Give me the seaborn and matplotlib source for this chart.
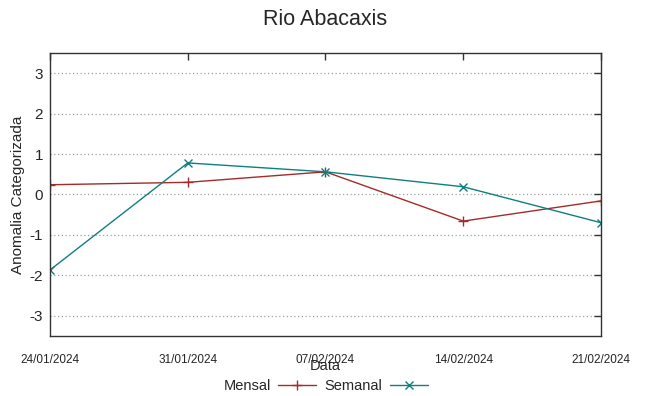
import pandas as pd
import matplotlib
matplotlib.use('Agg')
import matplotlib.pyplot as plt
import matplotlib.dates as mdates
from matplotlib.lines import Line2D
import seaborn as sns

datas = ['24/01/2024', '31/01/2024', '07/02/2024', '14/02/2024', '21/02/2024']
mensal = [0.24, 0.30, 0.56, -0.66, -0.16]
semanal = [-1.87, 0.78, 0.56, 0.19, -0.70]

sns.set_style('white')
plt.rcParams['font.family'] = ['Liberation Sans', 'DejaVu Sans']
plt.rcParams['axes.unicode_minus'] = False

dt = pd.to_datetime(datas, format='%d/%m/%Y')
df_m = pd.DataFrame({'Data': dt, 'valor': mensal})
df_s = pd.DataFrame({'Data': dt, 'valor': semanal})

fig, ax = plt.subplots(figsize=(6.49, 3.96), dpi=100)
fig.subplots_adjust(left=0.077, right=0.926, top=0.866, bottom=0.152)

cores = {'Mensal': '#a52a2a', 'Semanal': '#0f7f7f'}
sns.lineplot(data=df_m, x='Data', y='valor', color=cores['Mensal'], marker='+',
             markersize=7, markeredgewidth=1, markeredgecolor=cores['Mensal'],
             linewidth=1, ax=ax)
sns.lineplot(data=df_s, x='Data', y='valor', color=cores['Semanal'], marker='x',
             markersize=6, markeredgewidth=1, markeredgecolor=cores['Semanal'],
             linewidth=1, ax=ax)

ax.set_xlim(dt[0], dt[-1])
ax.set_ylim(-3.5, 3.5)
ax.set_yticks([-3, -2, -1, 0, 1, 2, 3])
ax.set_xticks(dt)
ax.xaxis.set_major_formatter(mdates.DateFormatter('%d/%m/%Y'))

ax.grid(axis='y', linestyle=(0, (1, 2)), color='#a0a0a0', linewidth=0.9)
for s in ax.spines.values():
    s.set_color('#333333')
    s.set_linewidth(1)

ax.tick_params(axis='both', direction='in', top=True, right=True, length=5,
               width=1, color='#333333')
ax.tick_params(axis='y', labelsize=11, pad=5)
ax.tick_params(axis='x', labelsize=8.5, pad=13)

ax.set_title('Rio Abacaxis', fontsize=15.5, pad=20)
ax.set_xlabel('Data', fontsize=10.5, labelpad=-5)
ax.set_ylabel('Anomalia Categorizada', fontsize=11, labelpad=3)

h = [Line2D([], [], color=cores['Mensal'], marker='+', lw=1, markersize=7),
     Line2D([], [], color=cores['Semanal'], marker='x', lw=1, markersize=6)]
ax.legend(h, ['Mensal', 'Semanal'], loc='upper center', bbox_to_anchor=(0.5, -0.105),
          ncol=2, frameon=False, markerfirst=False, fontsize=10.5,
          handlelength=2.6, columnspacing=0.6, handletextpad=0.5)

fig.savefig('out.png', dpi=100)
